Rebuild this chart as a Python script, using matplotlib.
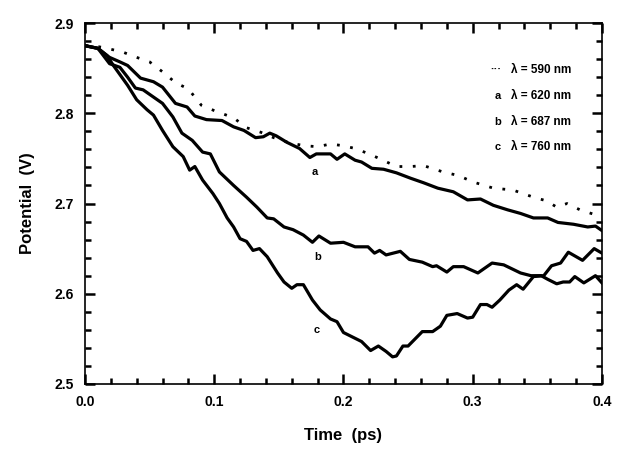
import matplotlib
matplotlib.use("Agg")
import matplotlib.pyplot as plt
from matplotlib.ticker import MultipleLocator

# dotted curve, lambda = 590 nm
t_590 = [0.0, 0.010, 0.020, 0.029, 0.040, 0.050, 0.060, 0.070, 0.080, 0.090, 0.100,
         0.115, 0.125, 0.136, 0.146, 0.159, 0.170, 0.180, 0.190, 0.200, 0.209, 0.218,
         0.226, 0.241, 0.252, 0.262, 0.277, 0.289, 0.300, 0.316, 0.331, 0.347, 0.357,
         0.365, 0.373, 0.383, 0.396, 0.400]
v_590 = [2.875, 2.874, 2.871, 2.868, 2.862, 2.857, 2.846, 2.834, 2.827, 2.809, 2.803,
         2.795, 2.784, 2.779, 2.773, 2.767, 2.764, 2.763, 2.766, 2.764, 2.761, 2.756,
         2.751, 2.741, 2.741, 2.742, 2.735, 2.731, 2.724, 2.717, 2.715, 2.707, 2.703,
         2.696, 2.700, 2.693, 2.687, 2.685]

# curve a, lambda = 620 nm
t_a = [0.0, 0.010, 0.019, 0.027, 0.033, 0.043, 0.053, 0.060, 0.070, 0.079, 0.085,
       0.094, 0.106, 0.115, 0.123, 0.132, 0.138, 0.143, 0.148, 0.156, 0.166, 0.174,
       0.179, 0.190, 0.195, 0.201, 0.209, 0.214, 0.222, 0.231, 0.241, 0.252, 0.262,
       0.273, 0.285, 0.296, 0.306, 0.316, 0.327, 0.337, 0.347, 0.358, 0.366, 0.378,
       0.389, 0.395, 0.400]
v_a = [2.875, 2.872, 2.862, 2.857, 2.853, 2.839, 2.835, 2.829, 2.811, 2.807, 2.797,
       2.793, 2.792, 2.785, 2.781, 2.773, 2.774, 2.778, 2.775, 2.768, 2.761, 2.751,
       2.755, 2.755, 2.749, 2.755, 2.748, 2.746, 2.739, 2.738, 2.734, 2.728, 2.723,
       2.717, 2.713, 2.704, 2.705, 2.698, 2.693, 2.689, 2.684, 2.684, 2.679, 2.677,
       2.674, 2.675, 2.670]

# curve b, lambda = 687 nm
t_b = [0.0, 0.010, 0.019, 0.027, 0.033, 0.039, 0.045, 0.053, 0.060, 0.068, 0.075,
       0.083, 0.091, 0.097, 0.104, 0.115, 0.125, 0.133, 0.141, 0.146, 0.154, 0.161,
       0.169, 0.176, 0.181, 0.190, 0.200, 0.209, 0.219, 0.224, 0.228, 0.233, 0.244,
       0.251, 0.261, 0.269, 0.272, 0.280, 0.285, 0.293, 0.304, 0.315, 0.324, 0.337,
       0.345, 0.353, 0.358, 0.365, 0.370, 0.375, 0.379, 0.386, 0.395, 0.400]
v_b = [2.875, 2.872, 2.855, 2.851, 2.840, 2.828, 2.826, 2.818, 2.811, 2.796, 2.778,
       2.770, 2.757, 2.755, 2.735, 2.720, 2.707, 2.696, 2.684, 2.683, 2.674, 2.671,
       2.665, 2.657, 2.664, 2.656, 2.657, 2.652, 2.652, 2.645, 2.648, 2.643, 2.647,
       2.638, 2.635, 2.630, 2.631, 2.624, 2.630, 2.630, 2.623, 2.634, 2.632, 2.623,
       2.620, 2.620, 2.616, 2.611, 2.613, 2.613, 2.619, 2.612, 2.620, 2.612]

# curve c, lambda = 760 nm
t_c = [0.0, 0.010, 0.017, 0.022, 0.029, 0.033, 0.040, 0.048, 0.053, 0.060, 0.068,
       0.076, 0.081, 0.085, 0.091, 0.099, 0.104, 0.110, 0.115, 0.120, 0.125, 0.130,
       0.135, 0.141, 0.149, 0.154, 0.160, 0.164, 0.169, 0.176, 0.182, 0.190, 0.195,
       0.200, 0.207, 0.214, 0.221, 0.227, 0.233, 0.238, 0.241, 0.246, 0.250, 0.261,
       0.269, 0.275, 0.280, 0.288, 0.296, 0.300, 0.306, 0.311, 0.315, 0.321, 0.328,
       0.334, 0.339, 0.347, 0.355, 0.361, 0.368, 0.374, 0.385, 0.394, 0.400]
v_c = [2.875, 2.872, 2.864, 2.853, 2.839, 2.831, 2.815, 2.804, 2.798, 2.781, 2.763,
       2.752, 2.737, 2.741, 2.726, 2.711, 2.700, 2.684, 2.674, 2.661, 2.658, 2.648,
       2.650, 2.641, 2.623, 2.613, 2.606, 2.610, 2.610, 2.593, 2.582, 2.572, 2.569,
       2.557, 2.552, 2.547, 2.537, 2.542, 2.536, 2.530, 2.531, 2.542, 2.542, 2.558,
       2.558, 2.564, 2.576, 2.578, 2.573, 2.574, 2.588, 2.588, 2.585, 2.593, 2.604,
       2.610, 2.605, 2.619, 2.620, 2.631, 2.634, 2.646, 2.637, 2.650, 2.645]

legend_marks = ["\u00b7\u00b7\u00b7", "a", "b", "c"]
legend_texts = ["\u03bb = 590 nm", "\u03bb = 620 nm", "\u03bb = 687 nm", "\u03bb = 760 nm"]
legend_y = [2.848, 2.819, 2.790, 2.763]

curve_labels = ["a", "b", "c"]
curve_label_pos = [(0.178, 2.735), (0.180, 2.641), (0.179, 2.560)]

plt.rcParams['font.family'] = ['Liberation Sans', 'DejaVu Sans']
plt.rcParams['font.weight'] = 'bold'

fig = plt.figure(figsize=(6.39, 4.62), dpi=100)
ax = fig.add_axes([0.133, 0.169, 0.809, 0.781])

lw = 2.3
ax.plot(t_590, v_590, color='black', linewidth=2.0, linestyle=(0, (1, 3.8)))
ax.plot(t_a, v_a, color='black', linewidth=lw)
ax.plot(t_b, v_b, color='black', linewidth=lw)
ax.plot(t_c, v_c, color='black', linewidth=lw)

for (x, y), lab in zip(curve_label_pos, curve_labels):
    ax.text(x, y, lab, fontsize=8, fontweight='bold', ha='center', va='center')

for mark, txt, y in zip(legend_marks, legend_texts, legend_y):
    ax.text(0.322, y, mark, fontsize=8, fontweight='bold', ha='right', va='center')
    ax.text(0.330, y, txt, fontsize=8.5, fontweight='bold', ha='left', va='center')

ax.set_xlim(0.0, 0.4)
ax.set_ylim(2.5, 2.9)
ax.xaxis.set_major_locator(MultipleLocator(0.1))
ax.xaxis.set_minor_locator(MultipleLocator(0.02))
ax.yaxis.set_major_locator(MultipleLocator(0.1))
ax.yaxis.set_minor_locator(MultipleLocator(0.02))
ax.xaxis.set_major_formatter(plt.FuncFormatter(lambda v, p: f"{v:.1f}"))
ax.yaxis.set_major_formatter(plt.FuncFormatter(lambda v, p: f"{v:.1f}"))

ax.tick_params(which='both', direction='in', top=True, right=True, width=1.8)
ax.tick_params(which='major', length=7, labelsize=10, pad=8)
ax.tick_params(which='minor', length=4)
for s in ax.spines.values():
    s.set_linewidth(1.2)

ax.set_xlabel('Time  (ps)', fontsize=12, fontweight='bold', labelpad=14)
ax.set_ylabel('Potential  (V)', fontsize=12, fontweight='bold', labelpad=14)

fig.savefig('out.png', dpi=100)
